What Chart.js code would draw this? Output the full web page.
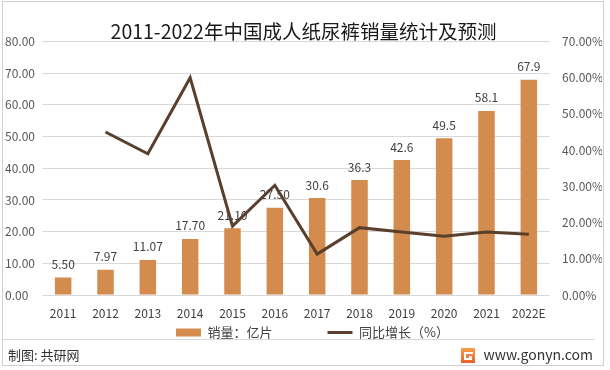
<!DOCTYPE html>
<html><head><meta charset="utf-8">
<script src="https://cdn.jsdelivr.net/npm/chart.js@4"></script>
<style>html,body{margin:0;padding:0;background:#fff}#wrap{width:610px;height:370px;position:relative}</style>
</head><body><div id="wrap"><canvas id="c" width="610" height="370"></canvas></div>
<script>
const years = ['2011','2012','2013','2014','2015','2016','2017','2018','2019','2020','2021','2022E'];
const sales = [5.50, 7.97, 11.07, 17.70, 21.10, 27.50, 30.6, 36.3, 42.6, 49.5, 58.1, 67.9];
const salesLabels = ['5.50','7.97','11.07','17.70','21.10','27.50','30.6','36.3','42.6','49.5','58.1','67.9'];
const growth = [null, 45.0, 39.0, 60.0, 19.0, 30.3, 11.3, 18.6, 17.4, 16.2, 17.4, 16.8];
const seriesNames = ['销量：亿片', '同比增长（%）'];
const titleText = '2011-2022年中国成人纸尿裤销量统计及预测';
const sourceText = '制图: 共研网';
const siteText = 'www.gonyn.com';

const FONT = '"Noto Sans CJK SC","Noto Sans",sans-serif';
const barColor = '#D48C4E';
const lineColor = '#5B3F2D';

const labelPlugin = {
  id: 'barLabels',
  afterDatasetDraw(chart, args) {
    if (args.index !== 0) return;
    const ctx = chart.ctx;
    const meta = chart.getDatasetMeta(0);
    ctx.save();
    ctx.font = '12px ' + FONT;
    ctx.fillStyle = '#404040';
    ctx.textAlign = 'center';
    ctx.textBaseline = 'middle';
    meta.data.forEach((bar, i) => {
      ctx.fillText(salesLabels[i], bar.x, bar.y - 13);
    });
    ctx.restore();
  }
};

const legendShift = {
  id: 'legendShift',
  afterLayout(chart) {
    const l = chart.legend;
    if (!l) return;
    l.top -= 60.4;
    l.bottom += 6;
    l.left += 9;
    l.right += 9;
  }
};

const footerPlugin = {
  id: 'footer',
  afterDraw(chart) {
    const ctx = chart.ctx;
    ctx.save();
    ctx.strokeStyle = '#d9d9d9';
    ctx.lineWidth = 1;
    ctx.beginPath();
    ctx.moveTo(2, 339.5); ctx.lineTo(594, 339.5);
    ctx.stroke();
    ctx.strokeStyle = '#d0d0d0';
    ctx.strokeRect(2.5, 1.5, 601, 364);
    ctx.fillStyle = '#333';
    ctx.textBaseline = 'middle';
    ctx.font = '13px ' + FONT;
    ctx.textAlign = 'left';
    ctx.fillText(sourceText, 8, 355);
    ctx.font = '14px ' + FONT;
    ctx.textAlign = 'right';
    ctx.fillText(siteText, 593, 355);
    const lx = 461, ly = 348;
    const g = ctx.createLinearGradient(lx, ly, lx, ly + 15);
    g.addColorStop(0, '#F6A04D'); g.addColorStop(1, '#E8602C');
    ctx.fillStyle = g;
    ctx.fillRect(lx, ly, 14, 15);
    ctx.fillStyle = '#fff';
    ctx.fillRect(lx + 3, ly + 4, 9, 2);
    ctx.fillRect(lx + 3, ly + 4, 2, 8);
    ctx.fillRect(lx + 3, ly + 10, 8, 2);
    ctx.fillRect(lx + 8, ly + 8, 3, 2);
    ctx.restore();
  }
};

new Chart(document.getElementById('c'), {
  data: {
    labels: years,
    datasets: [
      {
        type: 'bar', label: seriesNames[0], data: sales, yAxisID: 'y',
        backgroundColor: barColor, borderWidth: 0,
        barPercentage: 0.39, categoryPercentage: 1, order: 1
      },
      {
        type: 'line', label: seriesNames[1], data: growth, yAxisID: 'y1',
        borderColor: lineColor, backgroundColor: lineColor, borderWidth: 3,
        pointRadius: 0, tension: 0, spanGaps: false, order: 0
      }
    ]
  },
  options: {
    responsive: false,
    animation: false,
    devicePixelRatio: 1,
    layout: { padding: { left: 5, right: 8, top: 0, bottom: 31 } },
    scales: {
      x: {
        grid: { display: false, drawTicks: false },
        border: { display: false },
        ticks: { padding: 11, color: '#404040', font: { size: 12, family: FONT }, maxRotation: 0, autoSkip: false }
      },
      y: {
        position: 'left', min: 0, max: 80,
        grid: { color: '#d9d9d9', drawTicks: false },
        border: { display: false },
        ticks: { stepSize: 10, crossAlign: 'far', color: '#595959', font: { size: 12, family: FONT },
          callback: v => Number(v).toFixed(2) },
        afterFit(s) { s.width = 37; }
      },
      y1: {
        position: 'right', min: 0, max: 70,
        grid: { display: false, drawTicks: false },
        border: { display: false },
        ticks: { stepSize: 10, padding: 12, color: '#595959', font: { size: 12, family: FONT },
          callback: v => Number(v).toFixed(2) + '%' },
        afterFit(s) { s.width = 52; }
      }
    },
    plugins: {
      title: {
        display: true, text: titleText, color: '#1a1a1a',
        font: { size: 19.5, family: FONT, weight: 'normal', lineHeight: 1 },
        padding: { top: 22, bottom: 0 }
      },
      legend: {
        display: true, position: 'bottom', maxHeight: 7.6,
        labels: {
          usePointStyle: true, pointStyleWidth: 25, boxHeight: 8, padding: 55,
          color: '#404040', font: { size: 13, family: FONT, lineHeight: 1.2 },
          sort: (a, b) => a.datasetIndex - b.datasetIndex,
          generateLabels(chart) {
            const items = Chart.defaults.plugins.legend.labels.generateLabels(chart);
            items.forEach(it => {
              if (it.datasetIndex === 0) {
                it.pointStyle = 'rect'; it.lineWidth = 0; it.fillStyle = barColor; it.strokeStyle = barColor;
              } else {
                it.pointStyle = 'line'; it.lineWidth = 3; it.strokeStyle = lineColor; it.fillStyle = lineColor;
              }
            });
            return items;
          }
        }
      },
      tooltip: { enabled: false }
    }
  },
  plugins: [labelPlugin, legendShift, footerPlugin]
});
</script>
</body></html>
